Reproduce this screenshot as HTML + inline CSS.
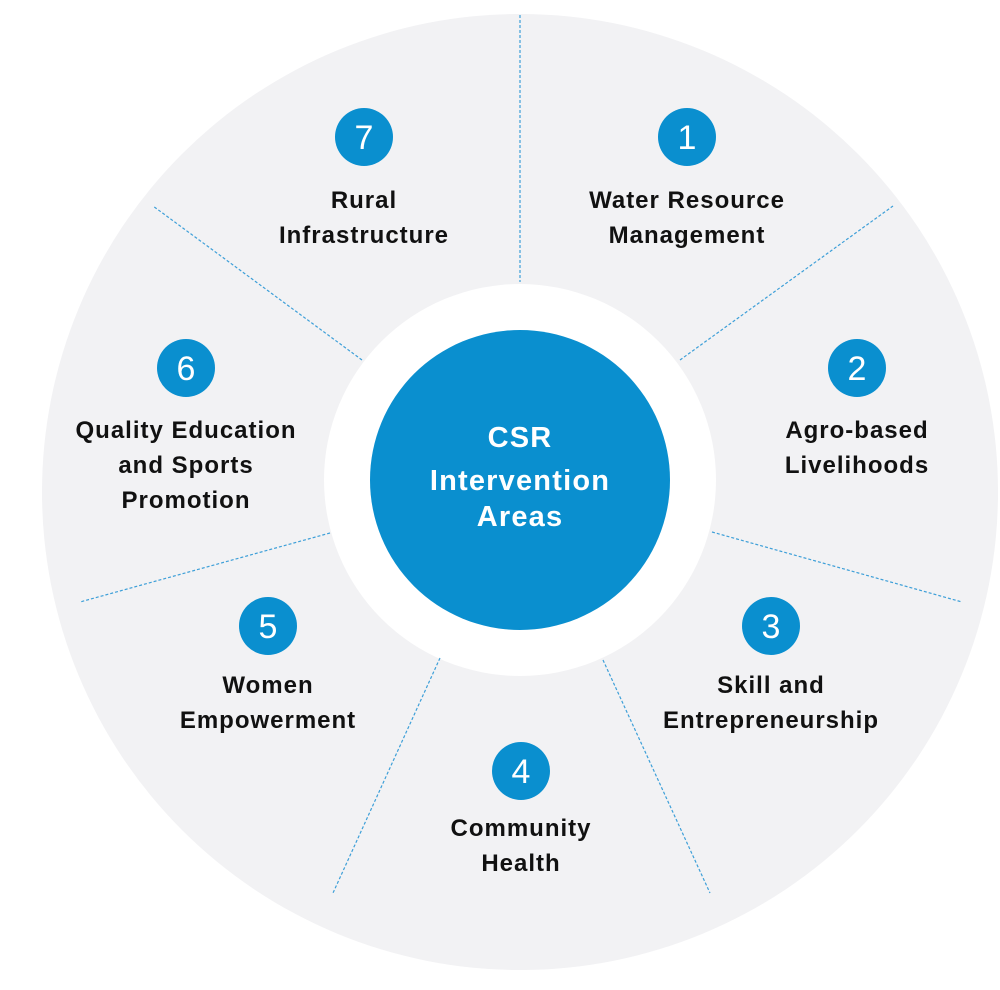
<!DOCTYPE html>
<html><head><meta charset="utf-8"><style>
html,body{margin:0;padding:0;background:#fff;}
svg text{font-family:"Liberation Sans",sans-serif;}
.t{font-size:24px;font-weight:bold;fill:#111;text-anchor:middle;letter-spacing:1px}
.n{font-size:34px;fill:#fff;text-anchor:middle}
.c{fill:#0a8fcf}
.d{stroke:#3d9fd8;stroke-width:1.2;stroke-dasharray:3,2}
.m{font-size:29px;font-weight:bold;fill:#fff;text-anchor:middle;letter-spacing:1.2px}
</style></head><body>
<svg width="1000" height="985" viewBox="0 0 1000 985" xmlns="http://www.w3.org/2000/svg">
<circle cx="520" cy="492" r="478" fill="#f2f2f4"/>
<circle cx="520" cy="480" r="196" fill="#fff"/>
<circle cx="520" cy="480" r="150" class="c"/>
<line class="d" x1="520" y1="15" x2="520" y2="282"/>
<line class="d" x1="680" y1="360" x2="893" y2="206"/>
<line class="d" x1="712" y1="532" x2="962" y2="602"/>
<line class="d" x1="603" y1="660" x2="710" y2="893"/>
<line class="d" x1="440" y1="658" x2="333" y2="893"/>
<line class="d" x1="330" y1="533" x2="80" y2="602"/>
<line class="d" x1="362" y1="360" x2="153" y2="206"/>
<text class="m" x="520" y="447">CSR</text>
<text class="m" x="520" y="490">Intervention</text>
<text class="m" x="520" y="526">Areas</text>

<circle class="c" cx="687" cy="137" r="29"/><text class="n" x="687" y="149">1</text>
<text class="t" x="687" y="208">Water Resource</text><text class="t" x="687" y="243">Management</text>

<circle class="c" cx="857" cy="368" r="29"/><text class="n" x="857" y="380">2</text>
<text class="t" x="857" y="438">Agro-based</text><text class="t" x="857" y="473">Livelihoods</text>

<circle class="c" cx="771" cy="626" r="29"/><text class="n" x="771" y="638">3</text>
<text class="t" x="771" y="693">Skill and</text><text class="t" x="771" y="728">Entrepreneurship</text>

<circle class="c" cx="521" cy="771" r="29"/><text class="n" x="521" y="783">4</text>
<text class="t" x="521" y="836">Community</text><text class="t" x="521" y="871">Health</text>

<circle class="c" cx="268" cy="626" r="29"/><text class="n" x="268" y="638">5</text>
<text class="t" x="268" y="693">Women</text><text class="t" x="268" y="728">Empowerment</text>

<circle class="c" cx="186" cy="368" r="29"/><text class="n" x="186" y="380">6</text>
<text class="t" x="186" y="438">Quality Education</text><text class="t" x="186" y="473">and Sports</text><text class="t" x="186" y="508">Promotion</text>

<circle class="c" cx="364" cy="137" r="29"/><text class="n" x="364" y="149">7</text>
<text class="t" x="364" y="208">Rural</text><text class="t" x="364" y="243">Infrastructure</text>
</svg>
</body></html>
